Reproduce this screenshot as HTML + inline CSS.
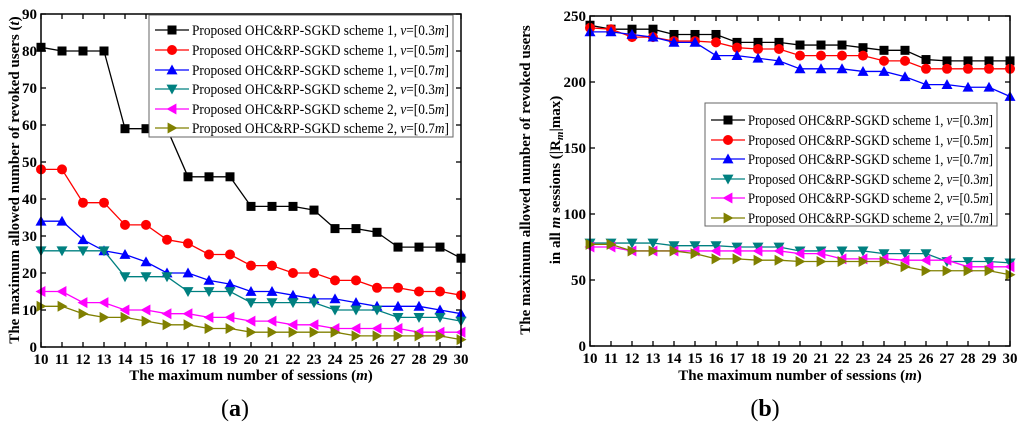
<!DOCTYPE html>
<html><head><meta charset="utf-8"><style>
body{margin:0;background:#fff;width:1024px;height:428px;overflow:hidden}
svg text{font-family:"Liberation Serif",serif;}
</style></head><body>
<svg id="svg" width="1024" height="428" xmlns="http://www.w3.org/2000/svg"></svg>
<script>
const sessions=[10,11,12,13,14,15,16,17,18,19,20,21,22,23,24,25,26,27,28,29,30];
const aS1v03=[81,80,80,80,59,59,59,46,46,46,38,38,38,37,32,32,31,27,27,27,24];
const aS1v05=[48,48,39,39,33,33,29,28,25,25,22,22,20,20,18,18,16,16,15,15,14];
const aS1v07=[34,34,29,26,25,23,20,20,18,17,15,15,14,13,13,12,11,11,11,10,9];
const aS2v03=[26,26,26,26,19,19,19,15,15,15,12,12,12,12,10,10,10,8,8,8,7];
const aS2v05=[15,15,12,12,10,10,9,9,8,8,7,7,6,6,5,5,5,5,4,4,4];
const aS2v07=[11,11,9,8,8,7,6,6,5,5,4,4,4,4,4,3,3,3,3,3,2];
const bS1v03=[243,240,240,240,236,236,236,230,230,230,228,228,228,226,224,224,217,216,216,216,216];
const bS1v05=[241,240,234,234,231,231,230,226,225,225,220,220,220,220,216,216,210,210,210,210,210];
const bS1v07=[238,238,236,234,230,230,220,220,218,216,210,210,210,208,208,204,198,198,196,196,189];
const bS2v03=[78,78,78,78,76,76,76,75,75,75,72,72,72,72,70,70,70,64,64,64,63];
const bS2v05=[75,75,72,72,72,72,72,72,72,72,70,70,66,66,66,65,65,65,60,60,60];
const bS2v07=[77,77,72,72,72,70,66,66,65,65,64,64,64,64,64,60,57,57,57,57,54];
const aTicks=[0,10,20,30,40,50,60,70,80,90];
const bTicks=[0,50,100,150,200,250];
const legendLabels=["scheme 1, ","scheme 1, ","scheme 1, ","scheme 2, ","scheme 2, ","scheme 2, "];
const legendV=["0.3","0.5","0.7","0.3","0.5","0.7"];
const colors=["#000","#f00","#00f","#008080","#f0f","#808000"];
const markers=["square","circle","up","down","left","right"];

const NS="http://www.w3.org/2000/svg";
const svg=document.getElementById('svg');
function el(tag,attrs,parent){const e=document.createElementNS(NS,tag);for(const k in attrs)e.setAttribute(k,attrs[k]);(parent||svg).appendChild(e);return e;}
function marker(g,type,x,y,c){
  let m;
  if(type==="square")m=el('rect',{x:x-4.5,y:y-4.5,width:9,height:9,fill:c},g);
  else if(type==="circle")m=el('circle',{cx:x,cy:y,r:5,fill:c},g);
  else{const s=5.5;let p;
    if(type==="up")p=[[x,y-s],[x-s,y+s*0.8],[x+s,y+s*0.8]];
    if(type==="down")p=[[x,y+s],[x-s,y-s*0.8],[x+s,y-s*0.8]];
    if(type==="left")p=[[x-s,y],[x+s*0.8,y-s],[x+s*0.8,y+s]];
    if(type==="right")p=[[x+s,y],[x-s*0.8,y-s],[x-s*0.8,y+s]];
    m=el('polygon',{points:p.map(q=>q.join(',')).join(' '),fill:c},g);}
  
  
}
function chart(id,L,R,T,B,ymax,ticks,series){
  const g=el('g',{});
  
  
  const xs=v=>L+(v-10)/20*(R-L);
  const ys=v=>B-v/ymax*(B-T);
  series.forEach((d,i)=>{
    const sg=el('g',{},g);
    
    
    el('polyline',{points:d.map((v,j)=>xs(sessions[j])+','+ys(v)).join(' '),fill:'none',stroke:colors[i],'stroke-width':1.3},sg);
    d.forEach((v,j)=>marker(sg,markers[i],xs(sessions[j]),ys(v),colors[i]));
  });
  el('rect',{x:L,y:T,width:R-L,height:B-T,fill:'none',stroke:'#000','stroke-width':1.5},g);
  sessions.forEach(s=>{const x=xs(s);
    el('line',{x1:x,y1:B,x2:x,y2:B-5,stroke:'#000','stroke-width':1.3},g);
    el('line',{x1:x,y1:T,x2:x,y2:T+5,stroke:'#000','stroke-width':1.3},g);
    const t=el('text',{x:x,y:B+17,'text-anchor':'middle','font-size':15,'font-weight':'bold'},g);t.textContent=s;
    });
  ticks.forEach(v=>{const y=ys(v);
    el('line',{x1:L,y1:y,x2:L+5,y2:y,stroke:'#000','stroke-width':1.3},g);
    el('line',{x1:R,y1:y,x2:R-5,y2:y,stroke:'#000','stroke-width':1.3},g);
    const t=el('text',{x:L-4,y:y+5,'text-anchor':'end','font-size':15,'font-weight':'bold'},g);t.textContent=v;
    });
  return g;
}
function legend(name,x,y,w,h,rowY,tw){
  const g=el('g',{});
  
  
  el('rect',{x:x,y:y,width:w,height:h,fill:'#fff',stroke:'#666','stroke-width':1},g);
  rowY.forEach((ry,i)=>{
    el('line',{x1:x+6,y1:ry,x2:x+40,y2:ry,stroke:colors[i],'stroke-width':1.3},g);
    marker(g,markers[i],x+23,ry,colors[i]);
    const t=el('text',{x:x+43,y:ry+5,'font-size':14.5,textLength:tw,lengthAdjust:'spacingAndGlyphs'},g);
    
    t.innerHTML='Proposed OHC&amp;RP-SGKD '+legendLabels[i]+'<tspan font-style="italic">v</tspan>=[' + legendV[i]+'<tspan font-style="italic">m</tspan>]';
  });
}
chart('chart-a',41,461,14,347,90,aTicks,[aS1v03,aS1v05,aS1v07,aS2v03,aS2v05,aS2v07]);
legend('legend-a',149,15,304,122,[30,50,70,89,109,128],257);
chart('chart-b',590,1010,16,346,250,bTicks,[bS1v03,bS1v05,bS1v07,bS2v03,bS2v05,bS2v07]);
legend('legend-b',705,103,292,123,[120,140,159,179,198,218],245);

function txt(name,html,attrs){const t=el('text',attrs);t.innerHTML=html;}
txt('x-axis-title-a','The maximum number of sessions (<tspan font-style="italic">m</tspan>)',{x:251,y:380,'text-anchor':'middle','font-size':15,'font-weight':'bold'});
txt('x-axis-title-b','The maximum number of sessions (<tspan font-style="italic">m</tspan>)',{x:800,y:380,'text-anchor':'middle','font-size':15,'font-weight':'bold'});
txt('y-axis-title-a','The maximum allowed number of revoked users (<tspan font-style="italic">t</tspan>)',{x:0,y:0,transform:'translate(19,180) rotate(-90)','text-anchor':'middle','font-size':15,'font-weight':'bold'});
txt('y-axis-title-b','The maximum allowed number of revoked users',{x:0,y:0,transform:'translate(530,180) rotate(-90)','text-anchor':'middle','font-size':15,'font-weight':'bold'});
txt('y-axis-title-b-line2','in all <tspan font-style="italic">m</tspan> sessions (|R<tspan font-style="italic" font-size="11" dy="3">m</tspan><tspan dy="-3">|max)</tspan>',{x:0,y:0,transform:'translate(560,180) rotate(-90)','text-anchor':'middle','font-size':15,'font-weight':'bold'});
txt('panel-label-a','(<tspan font-weight="bold">a</tspan>)',{x:235,y:416,'text-anchor':'middle','font-size':24});
txt('panel-label-b','(<tspan font-weight="bold">b</tspan>)',{x:765,y:416,'text-anchor':'middle','font-size':24});
</script>
</body></html>
